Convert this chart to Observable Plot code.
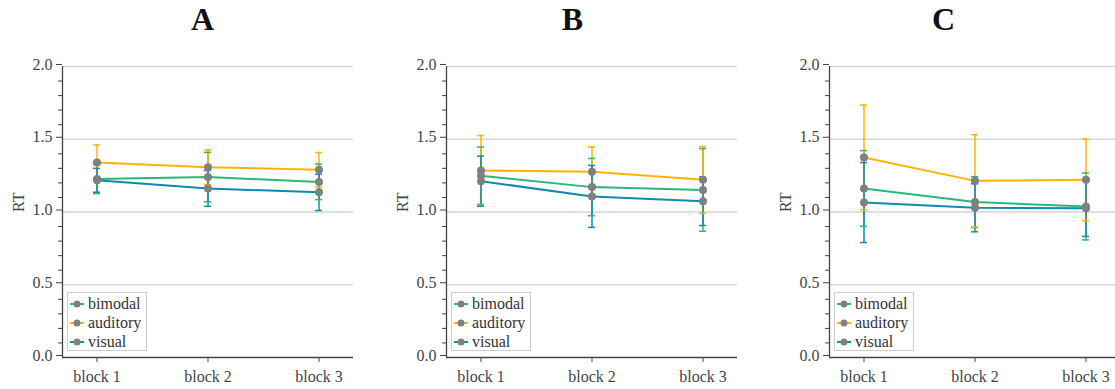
<!DOCTYPE html>
<html>
<head>
<meta charset="utf-8">
<script src="https://cdn.jsdelivr.net/npm/d3@7"></script>
<script src="https://cdn.jsdelivr.net/npm/@observablehq/plot@0.6"></script>
<style>
  html, body { margin: 0; padding: 0; background: #fff; }
  #fig { position: relative; width: 1115px; height: 389px; overflow: hidden; font-family: "Liberation Serif", serif; }
  .panel { position: absolute; top: 0; width: 384px; height: 389px; }
  .legend { position: absolute; left: 67px; top: 292px; width: 78px; height: 57px; border: 1px solid #cfcfcf; background: #fff;
            font-family: "Liberation Serif", serif; font-size: 16px; color: #333; }
  .legend .row { position: absolute; left: 1px; height: 19px; display: flex; align-items: center; }
  .legend svg { margin-right: 3px; }
</style>
</head>
<body>
<div id="fig"></div>
<script>
// ---- data ----
const blocks = ["block 1", "block 2", "block 3"];
const seriesNames = ["bimodal", "auditory", "visual"];
const seriesColors = ["#2ab879", "#ffb300", "#0d8bb1"];
const panelTitles = ["A", "B", "C"];
const yTicks = [0, 0.5, 1.0, 1.5, 2.0];
const yMinorTicks = [0.1, 0.2, 0.3, 0.4, 0.6, 0.7, 0.8, 0.9, 1.1, 1.2, 1.3, 1.4, 1.6, 1.7, 1.8, 1.9];

// Panel A
const A_bimodal_mean  = [1.226, 1.240, 1.207];
const A_bimodal_err   = [0.100, 0.170, 0.122];
const A_auditory_mean = [1.340, 1.308, 1.290];
const A_auditory_err  = [0.120, 0.119, 0.119];
const A_visual_mean   = [1.218, 1.162, 1.135];
const A_visual_err    = [0.082, 0.123, 0.125];
// Panel B
const B_bimodal_mean  = [1.249, 1.171, 1.152];
const B_bimodal_err   = [0.197, 0.197, 0.284];
const B_auditory_mean = [1.285, 1.276, 1.221];
const B_auditory_err  = [0.240, 0.172, 0.229];
const B_visual_mean   = [1.212, 1.107, 1.074];
const B_visual_err    = [0.172, 0.213, 0.167];
// Panel C
const C_bimodal_mean  = [1.162, 1.068, 1.038];
const C_bimodal_err   = [0.260, 0.175, 0.230];
const C_auditory_mean = [1.375, 1.214, 1.221];
const C_auditory_err  = [0.360, 0.317, 0.280];
const C_visual_mean   = [1.065, 1.029, 1.026];
const C_visual_err    = [0.275, 0.165, 0.194];

const panelData = [
  {bimodal: [A_bimodal_mean, A_bimodal_err], auditory: [A_auditory_mean, A_auditory_err], visual: [A_visual_mean, A_visual_err]},
  {bimodal: [B_bimodal_mean, B_bimodal_err], auditory: [B_auditory_mean, B_auditory_err], visual: [B_visual_mean, B_visual_err]},
  {bimodal: [C_bimodal_mean, C_bimodal_err], auditory: [C_auditory_mean, C_auditory_err], visual: [C_visual_mean, C_visual_err]}
];

const fig = document.getElementById("fig");
const panelLeft = [0, 384, 767];
const titleDx = [140, 126, 114];

panelData.forEach((pd, p) => {
  const rows = [];
  seriesNames.forEach(s => {
    const [m, e] = pd[s];
    blocks.forEach((b, i) => rows.push({series: s, block: b, mean: m[i], err: e[i]}));
  });

  const chart = Plot.plot({
    width: 384, height: 389,
    marginLeft: 62, marginRight: 31, marginTop: 66, marginBottom: 32,
    style: {fontFamily: "'Liberation Serif', serif", fontSize: "16px", color: "#333", background: "white", overflow: "visible"},
    x: {type: "band", domain: blocks, paddingInner: 0.94, paddingOuter: 0.2717, axis: null},
    y: {domain: [0, 2], axis: null},
    color: {domain: seriesNames, range: seriesColors},
    marks: [
      Plot.gridY(yTicks.slice(1), {stroke: "#d6d6d6", strokeOpacity: 1, strokeWidth: 1.3}),
      Plot.axisY({ticks: yMinorTicks, tickSize: 4, tickFormat: () => "", stroke: "#444", label: null}),
      Plot.axisY({ticks: yTicks, tickSize: 6, tickPadding: 4, tickFormat: d3.format(".1f"), stroke: "#444", fill: "#444", label: null, dy: -2}),
      Plot.axisX({tickSize: 5, tickPadding: 8, stroke: "#444", fill: "#444", label: null}),
      Plot.ruleY([0], {stroke: "#444", strokeWidth: 1.3}),
      Plot.ruleX([0], {x: null, dx: -145.5, stroke: "#444", strokeWidth: 1.3}),
      Plot.text(["RT"], {frameAnchor: "left", rotate: -90, dx: -44, fill: "#444", fontSize: 16}),
      Plot.text([panelTitles[p]], {frameAnchor: "top-left", textAnchor: "middle", lineAnchor: "bottom", dx: titleDx[p], dy: -37, fontSize: 32, fontWeight: "bold", fill: "#111"}),
      Plot.line(rows, {x: "block", y: "mean", z: "series", stroke: "series", strokeWidth: 2}),
      Plot.ruleX(rows, {x: "block", y1: d => d.mean - d.err, y2: d => d.mean + d.err, stroke: "series", strokeWidth: 1.5}),
      Plot.tickY(rows, {x: "block", y: d => d.mean + d.err, stroke: "series", strokeWidth: 1.5}),
      Plot.tickY(rows, {x: "block", y: d => d.mean - d.err, stroke: "series", strokeWidth: 1.5}),
      Plot.dot(rows, {x: "block", y: "mean", r: 4, fill: "#808080", stroke: "none"})
    ]
  });

  const panel = document.createElement("div");
  panel.className = "panel";
  panel.style.left = panelLeft[p] + "px";
  panel.appendChild(chart);

  const legend = document.createElement("div");
  legend.className = "legend";
  seriesNames.forEach((s, i) => {
    const row = document.createElement("div");
    row.className = "row";
    row.style.top = (1 + i * 19) + "px";
    row.innerHTML = `<svg width="16" height="10"><line x1="1" x2="15" y1="5" y2="5" stroke="${seriesColors[i]}" stroke-width="2"/><circle cx="8" cy="5" r="3.5" fill="#808080"/></svg><span>${s}</span>`;
    legend.appendChild(row);
  });
  panel.appendChild(legend);
  fig.appendChild(panel);
});
</script>
</body>
</html>
